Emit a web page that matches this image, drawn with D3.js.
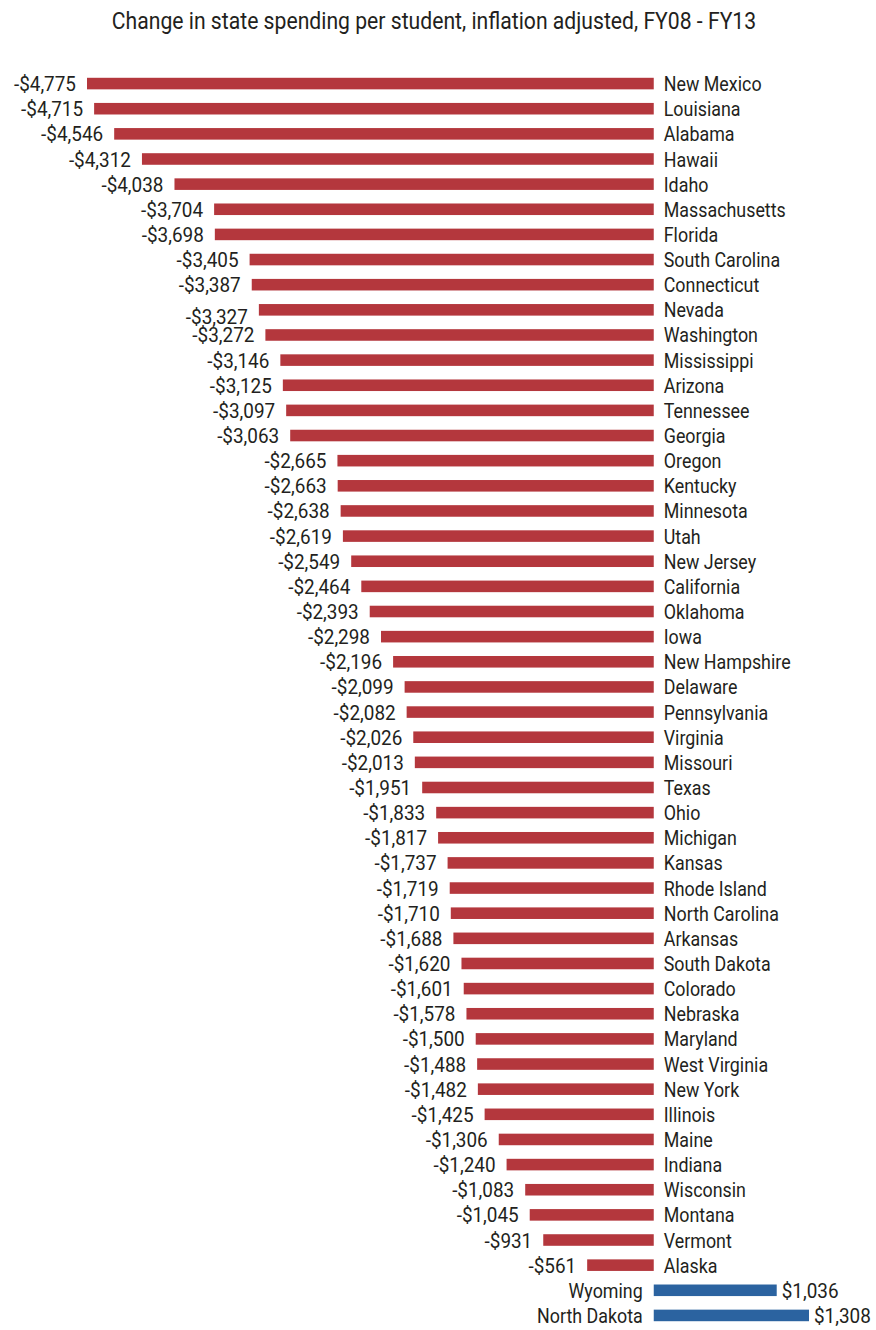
<!DOCTYPE html>
<html>
<head>
<meta charset="utf-8">
<script src="https://cdn.jsdelivr.net/npm/d3@7"></script>
<style>
  body { margin: 0; background: #fff; }
  svg text { font-family: Roboto, "Open Sans", sans-serif; fill: #231f20; }
</style>
</head>
<body>
<svg width="876" height="1330"></svg>
<script>
var title = "Change in state spending per student, inflation adjusted, FY08 - FY13";

var states = ["New Mexico", "Louisiana", "Alabama", "Hawaii", "Idaho", "Massachusetts", "Florida",
    "South Carolina", "Connecticut", "Nevada", "Washington", "Mississippi", "Arizona", "Tennessee",
    "Georgia", "Oregon", "Kentucky", "Minnesota", "Utah", "New Jersey", "California", "Oklahoma",
    "Iowa", "New Hampshire", "Delaware", "Pennsylvania", "Virginia", "Missouri", "Texas", "Ohio",
    "Michigan", "Kansas", "Rhode Island", "North Carolina", "Arkansas", "South Dakota", "Colorado",
    "Nebraska", "Maryland", "West Virginia", "New York", "Illinois", "Maine", "Indiana", "Wisconsin",
    "Montana", "Vermont", "Alaska", "Wyoming", "North Dakota"];

var change = [-4775, -4715, -4546, -4312, -4038, -3704, -3698,
    -3405, -3387, -3327, -3272, -3146, -3125, -3097,
    -3063, -2665, -2663, -2638, -2619, -2549, -2464, -2393,
    -2298, -2196, -2099, -2082, -2026, -2013, -1951, -1833,
    -1817, -1737, -1719, -1710, -1688, -1620, -1601,
    -1578, -1500, -1488, -1482, -1425, -1306, -1240, -1083,
    -1045, -931, -561, 1036, 1308];

var data = states.map(function(s, i) { return {state: s, value: change[i]}; });

var svg = d3.select("svg");
var fontSize = 21;

var x = d3.scaleLinear()
    .domain([-4775, 1308])
    .range([87, 809]);

var y = d3.scaleBand()
    .domain(states)
    .range([71, 1328])
    .paddingInner(0.54)
    .paddingOuter(0.27);

var fmt = function(v) { return (v < 0 ? "-$" : "$") + d3.format(",")(Math.abs(v)); };

// no condensed face installed, so squash each text to a fraction of its natural width
function squash(sel, k) {
    sel.each(function() {
        var w = this.getComputedTextLength();
        d3.select(this).attr("textLength", w * k).attr("lengthAdjust", "spacingAndGlyphs");
    });
}

svg.append("text")
    .attr("x", 434)
    .attr("y", 29)
    .attr("text-anchor", "middle")
    .style("font-size", "23px")
    .text(title)
    .call(squash, 0.92);

var row = svg.selectAll("g.row")
    .data(data)
    .enter().append("g")
    .attr("class", "row")
    .attr("transform", function(d) { return "translate(0," + y(d.state) + ")"; });

row.append("rect")
    .attr("x", function(d) { return x(Math.min(0, d.value)); })
    .attr("width", function(d) { return Math.abs(x(d.value) - x(0)); })
    .attr("height", y.bandwidth())
    .attr("fill", function(d) { return d.value < 0 ? "#b4373d" : "#2b63a0"; });

var mid = y.bandwidth() / 2 + 7.5;

// state name sits on the other side of the zero line
row.append("text")
    .attr("x", function(d) { return d.value < 0 ? x(0) + 10 : x(0) - 11; })
    .attr("y", mid)
    .attr("text-anchor", function(d) { return d.value < 0 ? "start" : "end"; })
    .style("font-size", fontSize + "px")
    .text(function(d) { return d.state; })
    .call(squash, 0.85);

// the Nevada figure sits a little low in the original, half over Washington's
row.append("text")
    .attr("x", function(d) { return d.value < 0 ? x(d.value) - 11 : x(d.value) + 5; })
    .attr("y", function(d) { return mid + (d.state === "Nevada" ? 7 : 0); })
    .attr("text-anchor", function(d) { return d.value < 0 ? "end" : "start"; })
    .style("font-size", fontSize + "px")
    .text(function(d) { return fmt(d.value); })
    .call(squash, 0.9);
</script>
</body>
</html>
